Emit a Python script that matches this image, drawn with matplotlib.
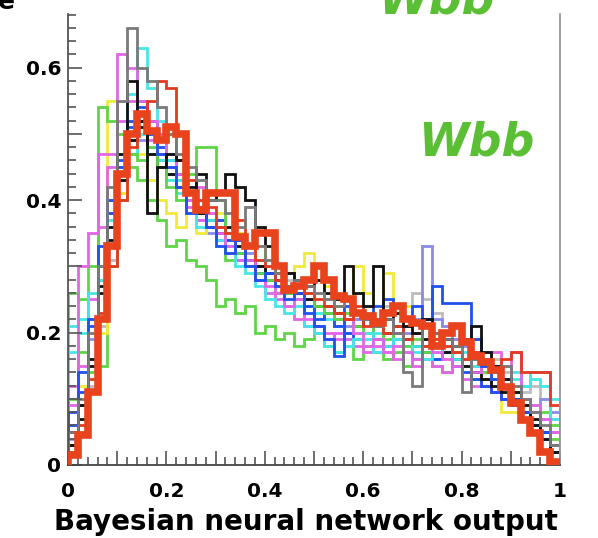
import numpy as np
import matplotlib
matplotlib.use("Agg")
import matplotlib.pyplot as plt
from matplotlib.ticker import MultipleLocator, FuncFormatter

# 50 bins of width 0.02 over the network output range
bin_edges = np.linspace(0.0, 1.0, 51)

# Mean prediction (thick line)
mean_pred = [0.015, 0.045, 0.11, 0.22, 0.33, 0.44, 0.50, 0.53, 0.505, 0.49,
             0.51, 0.50, 0.41, 0.385, 0.41, 0.41, 0.41, 0.345, 0.33, 0.35,
             0.35, 0.30, 0.265, 0.27, 0.28, 0.30, 0.28, 0.255, 0.25, 0.23,
             0.225, 0.215, 0.23, 0.24, 0.22, 0.215, 0.21, 0.18, 0.20, 0.21,
             0.185, 0.165, 0.155, 0.143, 0.118, 0.094, 0.068, 0.048, 0.02, 0.005]

# Individual network samples (thin lines)
s_gray = [0.05, 0.10, 0.20, 0.30, 0.42, 0.55, 0.66, 0.60, 0.58, 0.54,
          0.50, 0.47, 0.45, 0.43, 0.40, 0.40, 0.38, 0.36, 0.39, 0.33,
          0.31, 0.29, 0.27, 0.28, 0.27, 0.26, 0.25, 0.24, 0.25, 0.23,
          0.22, 0.21, 0.22, 0.20, 0.14, 0.12, 0.21, 0.20, 0.19, 0.18,
          0.11, 0.16, 0.16, 0.14, 0.15, 0.12, 0.10, 0.08, 0.06, 0.03]
s_black = [0.03, 0.07, 0.16, 0.27, 0.36, 0.47, 0.58, 0.52, 0.38, 0.45,
           0.47, 0.46, 0.42, 0.44, 0.40, 0.41, 0.44, 0.42, 0.40, 0.36,
           0.33, 0.30, 0.29, 0.28, 0.27, 0.28, 0.26, 0.25, 0.30, 0.26,
           0.24, 0.30, 0.22, 0.23, 0.21, 0.20, 0.22, 0.20, 0.19, 0.18,
           0.19, 0.21, 0.17, 0.15, 0.13, 0.11, 0.09, 0.06, 0.04, 0.02]
s_black2 = [0.05, 0.09, 0.15, 0.26, 0.34, 0.43, 0.49, 0.51, 0.47, 0.45,
            0.44, 0.42, 0.40, 0.38, 0.37, 0.35, 0.36, 0.33, 0.31, 0.30,
            0.29, 0.28, 0.27, 0.26, 0.25, 0.24, 0.24, 0.23, 0.22, 0.21,
            0.22, 0.21, 0.20, 0.21, 0.19, 0.18, 0.19, 0.18, 0.17, 0.16,
            0.15, 0.14, 0.13, 0.12, 0.11, 0.10, 0.08, 0.07, 0.05, 0.03]
s_magenta = [0.12, 0.30, 0.35, 0.47, 0.47, 0.62, 0.60, 0.55, 0.52, 0.50,
             0.47, 0.44, 0.40, 0.42, 0.38, 0.35, 0.33, 0.34, 0.31, 0.28,
             0.27, 0.26, 0.24, 0.25, 0.22, 0.21, 0.20, 0.19, 0.22, 0.20,
             0.18, 0.19, 0.17, 0.18, 0.17, 0.16, 0.18, 0.17, 0.16, 0.15,
             0.16, 0.14, 0.15, 0.17, 0.13, 0.17, 0.10, 0.09, 0.07, 0.05]
s_magenta2 = [0.09, 0.15, 0.25, 0.36, 0.45, 0.52, 0.55, 0.53, 0.49, 0.47,
              0.45, 0.43, 0.39, 0.37, 0.36, 0.34, 0.32, 0.31, 0.30, 0.28,
              0.26, 0.25, 0.24, 0.22, 0.21, 0.20, 0.19, 0.20, 0.19, 0.18,
              0.17, 0.18, 0.17, 0.16, 0.17, 0.15, 0.16, 0.15, 0.14, 0.15,
              0.13, 0.12, 0.13, 0.11, 0.10, 0.11, 0.09, 0.08, 0.07, 0.05]
s_cyan = [0.21, 0.22, 0.26, 0.30, 0.40, 0.45, 0.56, 0.63, 0.57, 0.52,
          0.46, 0.43, 0.40, 0.36, 0.37, 0.34, 0.33, 0.30, 0.29, 0.27,
          0.25, 0.24, 0.23, 0.24, 0.21, 0.20, 0.18, 0.17, 0.18, 0.19,
          0.20, 0.17, 0.18, 0.19, 0.17, 0.18, 0.16, 0.17, 0.18, 0.16,
          0.17, 0.15, 0.16, 0.14, 0.15, 0.13, 0.12, 0.14, 0.14, 0.07]
s_cyan2 = [0.17, 0.20, 0.22, 0.28, 0.37, 0.43, 0.47, 0.50, 0.48, 0.46,
           0.43, 0.41, 0.38, 0.39, 0.36, 0.34, 0.35, 0.32, 0.30, 0.31,
           0.28, 0.26, 0.27, 0.25, 0.24, 0.23, 0.22, 0.21, 0.20, 0.21,
           0.19, 0.20, 0.18, 0.19, 0.18, 0.17, 0.18, 0.16, 0.17, 0.16,
           0.15, 0.16, 0.15, 0.14, 0.13, 0.14, 0.12, 0.13, 0.12, 0.10]
s_blue = [0.08, 0.14, 0.22, 0.33, 0.40, 0.45, 0.52, 0.54, 0.50, 0.47,
          0.45, 0.42, 0.38, 0.39, 0.36, 0.33, 0.32, 0.34, 0.30, 0.28,
          0.29, 0.27, 0.25, 0.26, 0.23, 0.21, 0.19, 0.165, 0.24, 0.23,
          0.22, 0.24, 0.25, 0.20, 0.21, 0.24, 0.22, 0.27, 0.245, 0.245,
          0.245, 0.19, 0.15, 0.13, 0.12, 0.10, 0.08, 0.06, 0.05, 0.03]
s_blue2 = [0.06, 0.11, 0.21, 0.30, 0.38, 0.46, 0.51, 0.55, 0.52, 0.48,
           0.46, 0.44, 0.41, 0.38, 0.36, 0.37, 0.34, 0.32, 0.31, 0.29,
           0.28, 0.29, 0.26, 0.25, 0.24, 0.22, 0.23, 0.21, 0.20, 0.19,
           0.20, 0.19, 0.18, 0.19, 0.17, 0.18, 0.17, 0.16, 0.17, 0.15,
           0.14, 0.13, 0.12, 0.11, 0.10, 0.09, 0.08, 0.06, 0.04, 0.02]
s_slate = [0.04, 0.09, 0.19, 0.28, 0.38, 0.47, 0.50, 0.49, 0.47, 0.46,
           0.44, 0.43, 0.40, 0.37, 0.35, 0.36, 0.34, 0.31, 0.32, 0.30,
           0.28, 0.27, 0.26, 0.27, 0.25, 0.24, 0.23, 0.22, 0.21, 0.22,
           0.20, 0.21, 0.20, 0.19, 0.20, 0.22, 0.33, 0.22, 0.21, 0.19,
           0.18, 0.17, 0.16, 0.15, 0.13, 0.11, 0.10, 0.09, 0.10, 0.08]
s_green = [0.10, 0.17, 0.30, 0.54, 0.52, 0.50, 0.47, 0.46, 0.48, 0.45,
           0.42, 0.40, 0.44, 0.48, 0.48, 0.40, 0.31, 0.32, 0.30, 0.29,
           0.28, 0.27, 0.26, 0.25, 0.26, 0.24, 0.23, 0.22, 0.23, 0.21,
           0.20, 0.21, 0.19, 0.20, 0.18, 0.19, 0.17, 0.18, 0.19, 0.17,
           0.16, 0.15, 0.14, 0.13, 0.12, 0.11, 0.10, 0.09, 0.08, 0.06]
s_green2 = [0.26, 0.25, 0.14, 0.15, 0.30, 0.40, 0.45, 0.43, 0.40, 0.37,
            0.33, 0.34, 0.31, 0.30, 0.28, 0.24, 0.25, 0.23, 0.24, 0.20,
            0.21, 0.19, 0.20, 0.18, 0.19, 0.20, 0.18, 0.17, 0.19, 0.16,
            0.18, 0.17, 0.16, 0.17, 0.15, 0.16, 0.17, 0.15, 0.14, 0.16,
            0.15, 0.13, 0.12, 0.11, 0.10, 0.09, 0.08, 0.07, 0.05, 0.04]
s_yellow = [0.06, 0.12, 0.16, 0.20, 0.55, 0.41, 0.55, 0.47, 0.43, 0.40,
            0.38, 0.36, 0.40, 0.35, 0.37, 0.38, 0.36, 0.35, 0.30, 0.33,
            0.28, 0.27, 0.26, 0.30, 0.32, 0.25, 0.27, 0.24, 0.23, 0.30,
            0.26, 0.22, 0.29, 0.21, 0.24, 0.20, 0.22, 0.19, 0.18, 0.17,
            0.15, 0.14, 0.13, 0.11, 0.08, 0.08, 0.09, 0.07, 0.05, 0.03]
s_red = [0.03, 0.06, 0.13, 0.23, 0.30, 0.40, 0.48, 0.52, 0.55, 0.58,
         0.57, 0.46, 0.43, 0.40, 0.39, 0.36, 0.35, 0.37, 0.33, 0.31,
         0.30, 0.28, 0.29, 0.27, 0.26, 0.25, 0.24, 0.23, 0.22, 0.24,
         0.21, 0.22, 0.20, 0.21, 0.19, 0.20, 0.18, 0.19, 0.18, 0.17,
         0.16, 0.17, 0.16, 0.15, 0.16, 0.17, 0.14, 0.14, 0.14, 0.09]
s_lgray = [0.02, 0.05, 0.12, 0.21, 0.31, 0.41, 0.49, 0.52, 0.50, 0.49,
           0.46, 0.44, 0.41, 0.40, 0.38, 0.37, 0.36, 0.34, 0.33, 0.31,
           0.30, 0.29, 0.28, 0.27, 0.26, 0.28, 0.25, 0.24, 0.23, 0.22,
           0.23, 0.30, 0.24, 0.21, 0.20, 0.26, 0.25, 0.23, 0.21, 0.19,
           0.18, 0.19, 0.17, 0.16, 0.14, 0.12, 0.11, 0.12, 0.10, 0.07]

samples = [
    (s_lgray, "#bdbdbd"),
    (s_slate, "#8c8ce8"),
    (s_green2, "#5fd548"),
    (s_yellow, "#f2ea3a"),
    (s_cyan2, "#46e6e6"),
    (s_magenta2, "#e266e6"),
    (s_blue2, "#2050ee"),
    (s_black2, "#111111"),
    (s_green, "#5fd548"),
    (s_cyan, "#46e6e6"),
    (s_magenta, "#e266e6"),
    (s_blue, "#2050ee"),
    (s_red, "#e33a22"),
    (s_black, "#111111"),
    (s_gray, "#7a7a7a"),
]

W, H = 598, 538
fig = plt.figure(figsize=(W / 100, H / 100), dpi=100)
ax = fig.add_axes([68 / W, (H - 465) / H, (560 - 68) / W, (465 - 14) / H])

for vals, col in samples:
    ax.stairs(vals, bin_edges, color=col, linewidth=2.0, baseline=0)

ax.stairs(mean_pred, bin_edges, color="#e8431c", linewidth=5.5, baseline=0, zorder=5)

ax.set_xlim(0, 1)
ax.set_ylim(0, 0.681)

ax.spines["top"].set_visible(False)
ax.spines["left"].set_color("#555555")
ax.spines["bottom"].set_color("#444444")
ax.spines["right"].set_color("#999999")
for s in ax.spines.values():
    s.set_linewidth(1.3)

ax.xaxis.set_major_locator(MultipleLocator(0.1))
ax.xaxis.set_minor_locator(MultipleLocator(0.02))
ax.yaxis.set_major_locator(MultipleLocator(0.1))
ax.yaxis.set_minor_locator(MultipleLocator(0.02))


def every_other(v, pos):
    k = int(round(v * 10))
    if k % 2:
        return ""
    return "0" if k == 0 else ("1" if k == 10 else f"{v:.1f}")


ax.xaxis.set_major_formatter(FuncFormatter(every_other))
ax.yaxis.set_major_formatter(FuncFormatter(every_other))

ax.tick_params(which="major", direction="in", length=10, width=1.2, color="#555555")
ax.tick_params(which="minor", direction="in", length=6, width=1.2, color="#555555")
ax.tick_params(axis="x", which="major", pad=12, labelsize=14.5)
ax.tick_params(axis="y", which="major", pad=5, labelsize=14.5)
ax.tick_params(right=False, top=False, which="both")
for lbl in ax.get_xticklabels() + ax.get_yticklabels():
    lbl.set_fontweight("bold")

fig.text(306 / W, (H - 522) / H, "Bayesian neural network output",
         ha="center", va="center", fontsize=20, fontweight="bold")

green = "#5bbf35"
fig.text(418 / W, (H - 155) / H, "Wbb", color=green, fontsize=33,
         fontweight="bold", fontstyle="italic", ha="left", va="baseline")
fig.text(378 / W, (H - 13) / H, "Wbb", color=green, fontsize=33,
         fontweight="bold", fontstyle="italic", ha="left", va="baseline")
fig.text(-2 / W, (H - 9) / H, "e", color="black", fontsize=18,
         fontweight="bold", ha="left", va="baseline")

fig.savefig("out.png", dpi=100)
